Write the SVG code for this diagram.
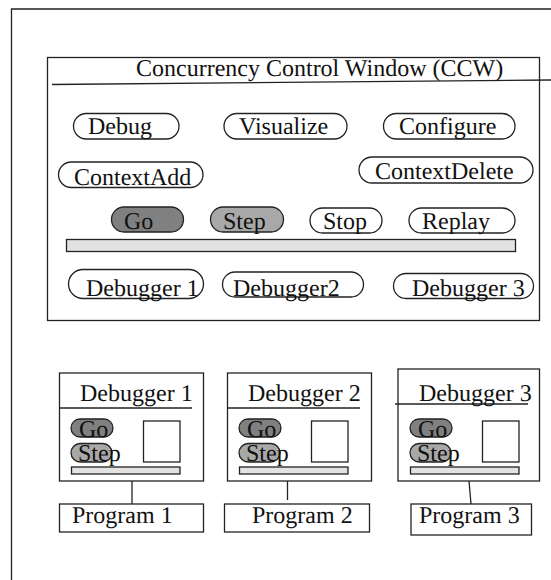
<svg xmlns="http://www.w3.org/2000/svg" width="551" height="580" viewBox="0 0 551 580">
<style>
text{font-family:"Liberation Serif","Times New Roman",serif;font-size:24px;fill:#111;text-rendering:geometricPrecision}
rect,line,path{stroke:#222;fill:none;stroke-width:1.3}
.dark{fill:#808080}
.mid{fill:#a8a8a8}
.bar{fill:#e2e2e2}
</style>
<g id="frame"><path d="M11.5 580V9H551"/></g>
<g id="ccw">
<rect x="47.5" y="57.5" width="492" height="263"/>
<line x1="52" y1="84.5" x2="551" y2="80"/>
<text x="136" y="76">Concurrency Control Window (CCW)</text>
</g>
<g id="btn-debug"><rect x="73.5" y="113.5" width="105.5" height="25.5" rx="12.75"/><text x="88" y="134">Debug</text></g>
<g id="btn-visualize"><rect x="224" y="113.5" width="123" height="25.5" rx="12.75"/><text x="239" y="134">Visualize</text></g>
<g id="btn-configure"><rect x="383.5" y="113.5" width="131.5" height="25.5" rx="12.75"/><text x="399" y="134">Configure</text></g>
<g id="btn-contextadd"><rect x="58.5" y="162" width="144.5" height="25.5" rx="12.75"/><text x="74" y="185">ContextAdd</text></g>
<g id="btn-contextdelete"><rect x="359" y="157" width="174" height="26" rx="13"/><text x="375" y="179">ContextDelete</text></g>
<g id="btn-go"><rect x="111.5" y="207" width="72" height="25" rx="12.5" class="dark"/><text x="124" y="229">Go</text></g>
<g id="btn-step"><rect x="210.5" y="207" width="73" height="25" rx="12.5" class="mid"/><text x="223" y="229">Step</text></g>
<g id="btn-stop"><rect x="310" y="208" width="72" height="25" rx="12.5"/><text x="323" y="229">Stop</text></g>
<g id="btn-replay"><rect x="409" y="208" width="106" height="25" rx="12.5"/><text x="422" y="229">Replay</text></g>
<g id="ccw-bar"><rect x="66.5" y="239.5" width="449" height="12" class="bar"/></g>
<g id="btn-debugger1"><rect x="68.5" y="269.5" width="135" height="29" rx="14.5"/><text x="86" y="296">Debugger 1</text></g>
<g id="btn-debugger2"><rect x="222.5" y="272" width="141" height="25" rx="12.5"/><text x="233" y="296">Debugger2</text></g>
<g id="btn-debugger3"><rect x="393.5" y="273.5" width="140" height="25" rx="12.5"/><text x="412" y="296">Debugger 3</text></g>
<g id="debugger1">
<rect x="59.5" y="373" width="144" height="108"/>
<line x1="60" y1="408" x2="192" y2="408"/>
<text x="80" y="401">Debugger 1</text>
<rect x="71" y="419" width="42" height="18" rx="9" class="dark"/><text x="79" y="437">Go</text>
<rect x="71" y="443.5" width="41" height="18.5" rx="9.25" class="mid"/><text x="78" y="461">Step</text>
<rect x="143.5" y="421" width="36.5" height="41"/>
<rect x="71.5" y="467" width="108.5" height="7" class="bar"/>
</g>
<g id="debugger2">
<rect x="227.5" y="373" width="144" height="108"/>
<line x1="228" y1="408" x2="360" y2="408"/>
<text x="248" y="401">Debugger 2</text>
<rect x="239" y="419" width="42" height="18" rx="9" class="dark"/><text x="247" y="437">Go</text>
<rect x="239" y="443.5" width="41" height="18.5" rx="9.25" class="mid"/><text x="246" y="461">Step</text>
<rect x="311.5" y="421" width="36.5" height="41"/>
<rect x="239.5" y="467" width="108.5" height="7" class="bar"/>
</g>
<g id="debugger3">
<rect x="398" y="369" width="141.5" height="112"/>
<line x1="395" y1="404" x2="528" y2="404"/>
<text x="419" y="401">Debugger 3</text>
<rect x="410" y="419" width="42" height="18" rx="9" class="dark"/><text x="418" y="437">Go</text>
<rect x="410" y="443.5" width="41" height="18.5" rx="9.25" class="mid"/><text x="417" y="461">Step</text>
<rect x="482.5" y="421" width="36.5" height="41"/>
<rect x="410.5" y="467" width="108.5" height="7" class="bar"/>
</g>
<g id="program1"><rect x="59.5" y="504" width="144" height="28"/><text x="72" y="523">Program 1</text></g>
<g id="program2"><rect x="224.5" y="504" width="145" height="28"/><text x="252" y="523">Program 2</text></g>
<g id="program3"><rect x="411" y="504" width="120.5" height="31"/><text x="419" y="523">Program 3</text></g>
<g id="connectors">
<line x1="132" y1="481" x2="132" y2="504"/>
<line x1="287.5" y1="481" x2="287.5" y2="500"/>
<line x1="469" y1="481" x2="471" y2="504"/>
</g>
</svg>
